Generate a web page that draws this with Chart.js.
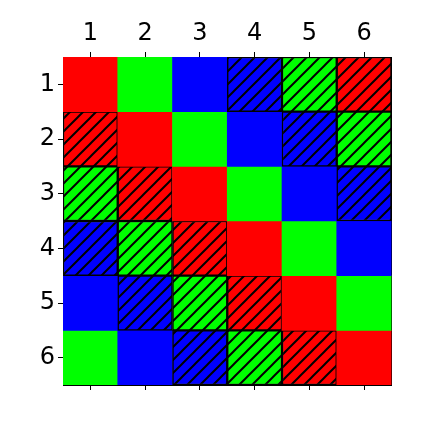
<!DOCTYPE html>
<html>
<head>
<meta charset="utf-8">
<script src="https://cdn.jsdelivr.net/npm/chart.js@4"></script>
<style>
  html, body { margin: 0; padding: 0; background: #fff; }
  canvas { display: block; }
</style>
</head>
<body>
<canvas id="grid" width="423" height="423"></canvas>
<script>
/* 6x6 colour grid: floating bars, one dataset per row, hatch via CanvasPattern. */
var colLabels = ['1', '2', '3', '4', '5', '6'];
var rowLabels = [1, 2, 3, 4, 5, 6];

var cellColors = [
    ['R', 'G', 'B', 'B', 'G', 'R'],
    ['R', 'R', 'G', 'B', 'B', 'G'],
    ['G', 'R', 'R', 'G', 'B', 'B'],
    ['B', 'G', 'R', 'R', 'G', 'B'],
    ['B', 'B', 'G', 'R', 'R', 'G'],
    ['G', 'B', 'B', 'G', 'R', 'R']
];
var hatched = [
    [0, 0, 0, 1, 1, 1],
    [1, 0, 0, 0, 1, 1],
    [1, 1, 0, 0, 0, 1],
    [1, 1, 1, 0, 0, 0],
    [0, 1, 1, 1, 0, 0],
    [0, 0, 1, 1, 1, 0]
];

var palette = { R: '#ff0000', G: '#00ff00', B: '#0000ff' };

function hatchPattern(color) {
    var s = 13;
    var c = document.createElement('canvas');
    c.width = s; c.height = s;
    var g = c.getContext('2d');
    g.fillStyle = color;
    g.fillRect(0, 0, s, s);
    g.strokeStyle = '#000';
    g.lineWidth = 2;
    g.beginPath();
    g.moveTo(-2, s + 2); g.lineTo(s + 2, -2);
    g.moveTo(-2, 2); g.lineTo(2, -2);
    g.moveTo(s - 2, s + 2); g.lineTo(s + 2, s - 2);
    g.stroke();
    return g.createPattern(c, 'repeat');
}

var patterns = {};
Object.keys(palette).forEach(function (k) { patterns[k] = hatchPattern(palette[k]); });

var datasets = rowLabels.map(function (r, i) {
    return {
        label: 'row ' + r,
        data: colLabels.map(function () { return [r - 0.5, r + 0.5]; }),
        backgroundColor: cellColors[i].map(function (k, j) {
            return hatched[i][j] ? patterns[k] : palette[k];
        }),
        borderColor: '#000',
        borderWidth: hatched[i].map(function (h) { return h ? 1.5 : 0; }),
        borderSkipped: false,
        grouped: false,
        barPercentage: 1,
        categoryPercentage: 1,
        xAxisID: 'x',
        yAxisID: 'y'
    };
});

var tickFont = { family: 'DejaVu Sans', size: 24 };
var axisGrid = { drawOnChartArea: false, drawTicks: true, tickLength: 5, color: '#000', lineWidth: 1, offset: false };
var axisBorder = { display: true, color: '#000', width: 1 };

new Chart(document.getElementById('grid'), {
    type: 'bar',
    data: { labels: colLabels, datasets: datasets },
    options: {
        responsive: false,
        animation: false,
        layout: { padding: { left: 0, top: 0, right: 31.5, bottom: 33 } },
        plugins: { legend: { display: false }, tooltip: { enabled: false } },
        scales: {
            x: {
                type: 'category',
                position: 'top',
                offset: true,
                grid: axisGrid,
                border: axisBorder,
                ticks: { font: tickFont, color: '#000', padding: 4, maxRotation: 0 },
                afterFit: function (a) { a.height = 57; }
            },
            xb: {
                type: 'category',
                position: 'bottom',
                labels: colLabels,
                offset: true,
                grid: axisGrid,
                border: axisBorder,
                ticks: { display: false },
                afterFit: function (a) { a.height = 5; }
            },
            y: {
                type: 'linear',
                position: 'left',
                min: 0.5,
                max: 6.5,
                reverse: true,
                grid: axisGrid,
                border: axisBorder,
                afterBuildTicks: function (a) { a.ticks = rowLabels.map(function (v) { return { value: v }; }); },
                ticks: { font: tickFont, color: '#000', padding: 3, callback: function (v) { return String(v); } },
                afterFit: function (a) { a.width = 63; }
            },
            yr: {
                type: 'linear',
                position: 'right',
                min: 0.5,
                max: 6.5,
                grid: { display: false, drawTicks: false },
                border: axisBorder,
                ticks: { display: false },
                afterFit: function (a) { a.width = 0; }
            }
        }
    }
});
</script>
</body>
</html>
